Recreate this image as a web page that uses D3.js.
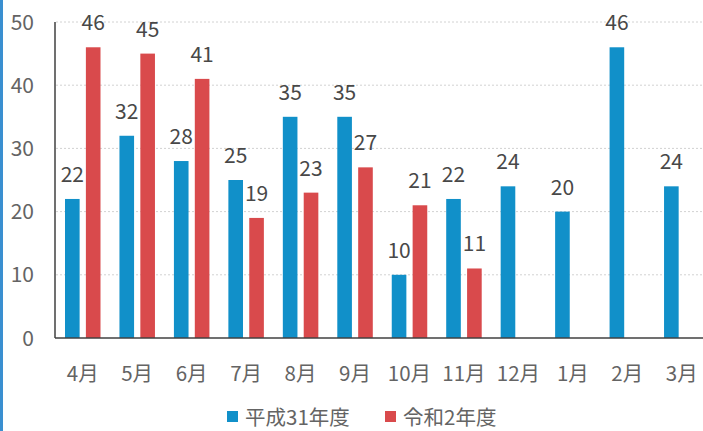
<!DOCTYPE html>
<html>
<head>
<meta charset="utf-8">
<script src="https://cdn.jsdelivr.net/npm/d3@7"></script>
<style>
  body { margin: 0; background: #fff; }
  text { font-family: "Noto Sans CJK JP", "Noto Sans", sans-serif; }
</style>
</head>
<body>
<div id="vis-container"></div>
<script>
const width = 703,
    height = 431;

// data
var months = ["4月", "5月", "6月", "7月", "8月", "9月", "10月", "11月", "12月", "1月", "2月", "3月"];
var seriesNames = ["平成31年度", "令和2年度"];
var h31 = [22, 32, 28, 25, 35, 35, 10, 22, 24, 20, 46, 24];
var r2 = [46, 45, 41, 19, 23, 27, 21, 11, null, null, null, null];
var yTicks = [0, 10, 20, 30, 40, 50];
var colors = ["#1190c9", "#d94a4c"];

var svg = d3.select("#vis-container").append("svg")
    .attr("width", width)
    .attr("height", height);

// left border strip
svg.append("rect")
    .attr("x", 0).attr("y", 0)
    .attr("width", 3).attr("height", height)
    .attr("fill", "#3a8fd0");

var x0 = d3.scaleBand()
    .domain(months)
    .range([55.5, 709]);

var x1 = d3.scaleBand()
    .domain(seriesNames)
    .range([9.5, 45])
    .paddingInner(0.3);

var y = d3.scaleLinear()
    .domain([0, 50])
    .range([338, 22]);

// gridlines
svg.append("g")
    .selectAll("line")
    .data(yTicks.slice(1))
    .enter().append("line")
    .attr("x1", 56).attr("x2", 703)
    .attr("y1", d => y(d)).attr("y2", d => y(d))
    .attr("stroke", "#d2d2d2")
    .attr("stroke-dasharray", "2,2");

// y tick labels
svg.append("g")
    .selectAll("text")
    .data(yTicks)
    .enter().append("text")
    .attr("x", 34)
    .attr("y", d => y(d) + 7.5)
    .attr("text-anchor", "end")
    .attr("font-size", 21)
    .attr("fill", "#646464")
    .text(d => d);

var rows = months.map((m, i) => ({ m: m, vals: [h31[i], r2[i]] }));

var groups = svg.append("g")
    .selectAll("g")
    .data(rows)
    .enter().append("g")
    .attr("transform", d => "translate(" + x0(d.m) + ",0)");

var cells = groups.selectAll("g")
    .data(d => d.vals.map((v, k) => ({ s: seriesNames[k], v: v, k: k })).filter(c => c.v != null))
    .enter().append("g");

cells.append("rect")
    .attr("x", d => x1(d.s))
    .attr("y", d => y(d.v))
    .attr("width", x1.bandwidth())
    .attr("height", d => y(0) - y(d.v))
    .attr("fill", d => colors[d.k]);

cells.append("text")
    .attr("x", d => x1(d.s) + x1.bandwidth() / 2)
    .attr("y", d => y(d.v) - 17)
    .attr("text-anchor", "middle")
    .attr("font-size", 21)
    .attr("fill", "#484848")
    .text(d => d.v);

// axes lines
svg.append("line")
    .attr("x1", 55).attr("x2", 703)
    .attr("y1", y(0)).attr("y2", y(0))
    .attr("stroke", "#404040").attr("stroke-width", 1.5);
svg.append("line")
    .attr("x1", 55).attr("x2", 55)
    .attr("y1", y(50)).attr("y2", y(0))
    .attr("stroke", "#404040").attr("stroke-width", 1.5);

// x labels
svg.append("g")
    .selectAll("text")
    .data(months)
    .enter().append("text")
    .attr("x", d => x0(d) + x0.bandwidth() / 2)
    .attr("y", 381)
    .attr("text-anchor", "middle")
    .attr("font-size", 20.5)
    .attr("fill", "#646464")
    .text(d => d);

// legend
var legendX = [227, 385];
var legend = svg.append("g")
    .selectAll("g")
    .data(seriesNames)
    .enter().append("g")
    .attr("transform", (d, i) => "translate(" + legendX[i] + ",0)");
legend.append("rect")
    .attr("x", 0).attr("y", 411)
    .attr("width", 11).attr("height", 11)
    .attr("fill", (d, i) => colors[i]);
legend.append("text")
    .attr("x", 18).attr("y", 425)
    .attr("font-size", 20.5)
    .attr("fill", "#646464")
    .text(d => d);
</script>
</body>
</html>
